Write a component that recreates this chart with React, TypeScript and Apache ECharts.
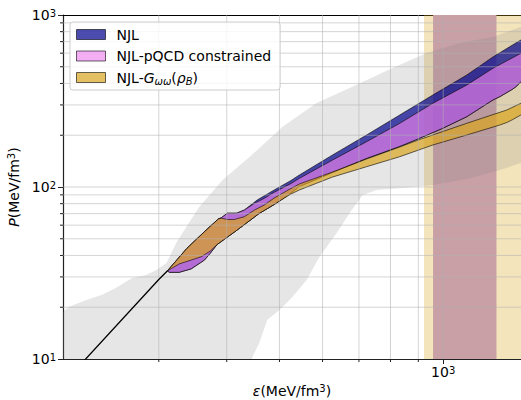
import React, { useEffect, useRef } from 'react';
import * as echarts from 'echarts';

const FONT = 'DejaVu Sans';

const X_MIN = 200;
const X_MAX = 1390;
const Y_MIN = 10;
const Y_MAX = 1000;

const X_GRID = [300, 400, 500, 600, 700, 800, 900, 1000];
const Y_GRID = [20, 30, 40, 50, 60, 70, 80, 90, 100, 200, 300, 400, 500, 600, 700, 800, 900];
const X_MINOR_TICKS = [300, 400, 500, 600, 700, 800, 900];
const Y_MINOR_TICKS = [20, 30, 40, 50, 60, 70, 80, 90, 200, 300, 400, 500, 600, 700, 800, 900];

const SPAN_WIDE = [922, 1500];
const SPAN_NARROW = [958, 1253];

const CRUST = [[210, 8.5], [300, 29], [311, 32.5]];

const GRAY_UPPER = [[190, 17.5], [199, 18.5], [205, 20.1], [221, 22.0], [236, 23.6], [250, 25.9], [268, 29.6], [284, 30.8], [297, 32.9], [310, 36.2], [323, 47.3], [337, 58.5], [356, 76.5], [393, 110], [440, 149], [506, 223], [585, 308], [673, 376], [807, 492], [932, 601], [1073, 687], [1234, 745], [1389, 852], [1450, 890]];
const GRAY_LOWER = [[190, 8], [436, 8], [446, 10.27], [459, 12.4], [475, 16.9], [500, 19.3], [528, 22.9], [561, 28.8], [592, 39.2], [637, 54.0], [673, 70.6], [711, 89.9], [755, 96.1], [832, 98.3], [957, 102.7], [1105, 111.3], [1271, 125.5], [1389, 137.9], [1450, 142]];

const NJL_UPPER = [[311, 32.5], [338, 44.0], [364, 55.0], [386, 65.2], [391, 66.3], [401, 70.4], [417, 70.4], [431, 73.5], [455, 84.0], [489, 96.1], [525, 109.1], [544, 117.4], [626, 153.5], [723, 200.6], [832, 262.2], [957, 342.6], [1105, 447.9], [1234, 569.9], [1389, 715.5], [1400, 728]];
const NJL_LOWER = [[311, 32.5], [314, 31.9], [327, 31.9], [344, 33.4], [364, 37.6], [373, 41.2], [384, 46.3], [417, 55.9], [459, 70.2], [489, 79.1], [525, 92.3], [544, 100.7], [626, 121.4], [723, 146.5], [832, 172.0], [905, 191.9], [998, 219.4], [1105, 256.3], [1234, 320.5], [1271, 335.0], [1343, 371.3], [1366, 386.6], [1389, 409.6], [1400, 414]];

const PQCD_UPPER = [[311, 32.5], [338, 44.0], [364, 55.0], [386, 65.2], [391, 66.3], [401, 70.4], [417, 70.4], [431, 73.5], [450, 80.4], [469, 86.0], [489, 93.2], [525, 104.8], [544, 112.3], [626, 143.5], [723, 183.4], [832, 234.6], [957, 306.6], [1105, 391.8], [1234, 489.8], [1389, 598.8], [1400, 607]];
const PQCD_LOWER = [[311, 32.5], [314, 31.9], [327, 31.9], [344, 33.4], [364, 37.6], [373, 41.2], [384, 46.3], [417, 55.9], [459, 70.2], [489, 79.1], [525, 92.3], [544, 100.7], [626, 121.4], [723, 146.5], [832, 172.0], [905, 191.9], [998, 219.4], [1105, 256.3], [1234, 320.5], [1271, 335.0], [1343, 371.3], [1366, 386.6], [1389, 409.6], [1400, 414]];

const G_UPPER = [[311, 32.5], [338, 44.0], [364, 55.0], [386, 65.2], [391, 65.8], [401, 64.7], [413, 64.7], [431, 67.2], [450, 73.5], [469, 78.6], [489, 86.3], [525, 98.0], [544, 104.1], [626, 122.2], [723, 145.5], [832, 170.8], [905, 188.9], [1105, 234.6], [1255, 268.2], [1309, 280.4], [1389, 306.6], [1400, 310]];
const G_LOWER = [[311, 32.5], [327, 35.7], [344, 37.6], [359, 39.3], [373, 42.4], [384, 46.3], [417, 55.9], [459, 70.2], [489, 79.1], [525, 91.1], [544, 96.1], [626, 114.3], [723, 131.2], [832, 150.0], [957, 175.5], [1105, 200.6], [1271, 229.3], [1309, 237.1], [1343, 246.9], [1389, 262.2], [1400, 265]];

const NAME_NJL = 'NJL';
const NAME_PQCD = 'NJL-pQCD constrained';
const NAME_G = 'NJL-Gωω(ρB)';

const COLOR_NJL = 'rgba(0,0,139,0.7)';
const COLOR_PQCD = 'rgba(238,130,238,0.65)';
const COLOR_G = 'rgba(218,165,32,0.7)';
const COLOR_GRAY = 'rgba(128,128,128,0.2)';
const COLOR_SPAN_WIDE = 'rgba(218,165,32,0.3)';
const COLOR_SPAN_NARROW = 'rgb(200,160,166)';
const EDGE = 'rgba(0,0,0,0.75)';

const FS = 14;
const supRich = {
  b: { fontFamily: FONT, fontSize: FS, color: '#000' },
  i: { fontFamily: FONT, fontSize: FS, fontStyle: 'italic', color: '#000' },
  sup: { fontFamily: FONT, fontSize: 10, color: '#000', verticalAlign: 'top', lineHeight: 10 },
  sub: { fontFamily: FONT, fontSize: 10, fontStyle: 'italic', color: '#000', verticalAlign: 'bottom', lineHeight: 10 },
};

const powLabel = (v: number) => {
  const e = Math.log10(v);
  const r = Math.round(e);
  return Math.abs(e - r) < 1e-6 ? `{b|10}{sup|${r}}` : '';
};

const polygonSeries = (name: string, upper: number[][], lower: number[][], fill: string, z: number, stroke: string | null) => {
  const ring = upper.concat(lower.slice().reverse());
  return {
    type: 'custom',
    name,
    z,
    clip: true,
    silent: true,
    coordinateSystem: 'cartesian2d',
    data: [upper[1]],
    renderItem: (_p: any, api: any) => ({
      type: 'polygon',
      shape: { points: ring.map((pt) => api.coord(pt)) },
      style: stroke ? { fill, stroke, lineWidth: 0.8 } : { fill },
    }),
  };
};

export default function App() {
  const ref = useRef<HTMLDivElement>(null);
  useEffect(() => {
    if (!ref.current) return;
    const chart = echarts.init(ref.current, undefined, { renderer: 'svg' });
    const spans = [SPAN_WIDE, SPAN_NARROW];
    const spanColors = [COLOR_SPAN_WIDE, COLOR_SPAN_NARROW];
    const option: any = {
      animation: false,
      backgroundColor: '#fff',
      grid: { left: 63, right: 0, top: 15, bottom: 41, containLabel: false, outerBoundsMode: 'none' },
      legend: {
        orient: 'vertical',
        left: 70,
        top: 22,
        z: 20,
        selectedMode: false,
        padding: [4, 9, 4, 6],
        itemGap: 4.5,
        itemWidth: 29,
        itemHeight: 10,
        icon: 'rect',
        backgroundColor: 'rgba(255,255,255,0.8)',
        borderColor: '#cccccc',
        borderWidth: 1,
        borderRadius: 3,
        textStyle: { fontFamily: FONT, fontSize: FS, color: '#000', lineHeight: 17, padding: [0, 0, 0, 6], rich: supRich },
        formatter: (name: string) => (name === NAME_G ? 'NJL-{i|G}{sub|ωω}({i|ρ}{sub|B})' : name),
        data: [
          { name: NAME_NJL, itemStyle: { color: COLOR_NJL, borderColor: 'rgba(0,0,0,0.6)', borderWidth: 1 } },
          { name: NAME_PQCD, itemStyle: { color: COLOR_PQCD, borderColor: 'rgba(0,0,0,0.6)', borderWidth: 1 } },
          { name: NAME_G, itemStyle: { color: COLOR_G, borderColor: 'rgba(0,0,0,0.6)', borderWidth: 1 } },
        ],
      },
      xAxis: [
        {
          type: 'log',
          logBase: 10,
          min: X_MIN,
          max: X_MAX,
          name: '{i|ε}{b|(MeV/fm}{sup|3}{b|)}',
          nameLocation: 'middle',
          nameGap: 19,
          nameTextStyle: { fontFamily: FONT, fontSize: FS, color: '#000', rich: supRich },
          axisLine: { show: true, onZero: false, lineStyle: { color: '#222', width: 1.2 } },
          axisTick: { show: true, length: 5, lineStyle: { color: '#222', width: 1 } },
          axisLabel: { formatter: powLabel, margin: 6, rich: supRich, showMinLabel: false, showMaxLabel: false },
          splitLine: { show: false },
        },
        {
          type: 'log',
          logBase: 10,
          min: X_MIN,
          max: X_MAX,
          position: 'top',
          axisLine: { show: true, onZero: false, lineStyle: { color: '#000', width: 1 } },
          axisTick: { show: false },
          axisLabel: { show: false },
          splitLine: { show: false },
        },
      ],
      yAxis: {
        type: 'log',
        logBase: 10,
        min: Y_MIN,
        max: Y_MAX,
        name: '{i|P}{b|(MeV/fm}{sup|3}{b|)}',
        nameLocation: 'middle',
        nameGap: 41,
        nameTextStyle: { fontFamily: FONT, fontSize: FS, color: '#000', rich: supRich },
        axisLine: { show: true, onZero: false, lineStyle: { color: '#222', width: 1.2 } },
        axisTick: { show: true, length: 5, lineStyle: { color: '#222', width: 1 } },
        axisLabel: { formatter: powLabel, margin: 7, rich: supRich },
        splitLine: { show: false },
      },
      series: [
        {
          type: 'custom',
          name: 'spans',
          z: 1,
          clip: true,
          silent: true,
          data: spans,
          renderItem: (p: any, api: any) => {
            const a = api.coord([api.value(0), Y_MAX]);
            const b = api.coord([api.value(1), Y_MIN]);
            return {
              type: 'rect',
              shape: { x: a[0], y: a[1], width: b[0] - a[0], height: b[1] - a[1] },
              style: { fill: spanColors[p.dataIndex] },
            };
          },
        },
        polygonSeries('gray', GRAY_UPPER, GRAY_LOWER, COLOR_GRAY, 2, null),
        polygonSeries(NAME_NJL, NJL_UPPER, NJL_LOWER, COLOR_NJL, 3, EDGE),
        polygonSeries(NAME_PQCD, PQCD_UPPER, PQCD_LOWER, COLOR_PQCD, 4, EDGE),
        polygonSeries(NAME_G, G_UPPER, G_LOWER, COLOR_G, 5, EDGE),
        {
          type: 'custom',
          name: 'gridlines',
          z: 6,
          clip: false,
          silent: true,
          data: [[X_MIN, Y_MIN]],
          renderItem: (_p: any, api: any) => {
            const children: any[] = [];
            const gs = { stroke: 'rgba(176,176,176,0.55)', lineWidth: 1 };
            X_GRID.forEach((v) => {
              const a = api.coord([v, Y_MIN]);
              const b = api.coord([v, Y_MAX]);
              children.push({ type: 'line', shape: { x1: a[0], y1: a[1], x2: b[0], y2: b[1] }, style: gs });
            });
            Y_GRID.forEach((v) => {
              const a = api.coord([X_MIN, v]);
              const b = api.coord([X_MAX, v]);
              children.push({ type: 'line', shape: { x1: a[0], y1: a[1], x2: b[0], y2: b[1] }, style: gs });
            });
            const ts = { stroke: '#222', lineWidth: 1 };
            X_MINOR_TICKS.forEach((v) => {
              const a = api.coord([v, Y_MIN]);
              children.push({ type: 'line', shape: { x1: a[0], y1: a[1], x2: a[0], y2: a[1] + 3 }, style: ts });
            });
            Y_MINOR_TICKS.forEach((v) => {
              const a = api.coord([X_MIN, v]);
              children.push({ type: 'line', shape: { x1: a[0], y1: a[1], x2: a[0] - 3, y2: a[1] }, style: ts });
            });
            return { type: 'group', children };
          },
        },
        {
          type: 'line',
          name: 'crust',
          z: 8,
          clip: true,
          silent: true,
          symbol: 'none',
          data: CRUST,
          lineStyle: { color: '#000', width: 1.3 },
        },
      ],
    };
    chart.setOption(option);
    return () => chart.dispose();
  }, []);
  return <div ref={ref} style={{ position: 'fixed', left: 0, top: 0, width: 521, height: 400 }} />;
}
